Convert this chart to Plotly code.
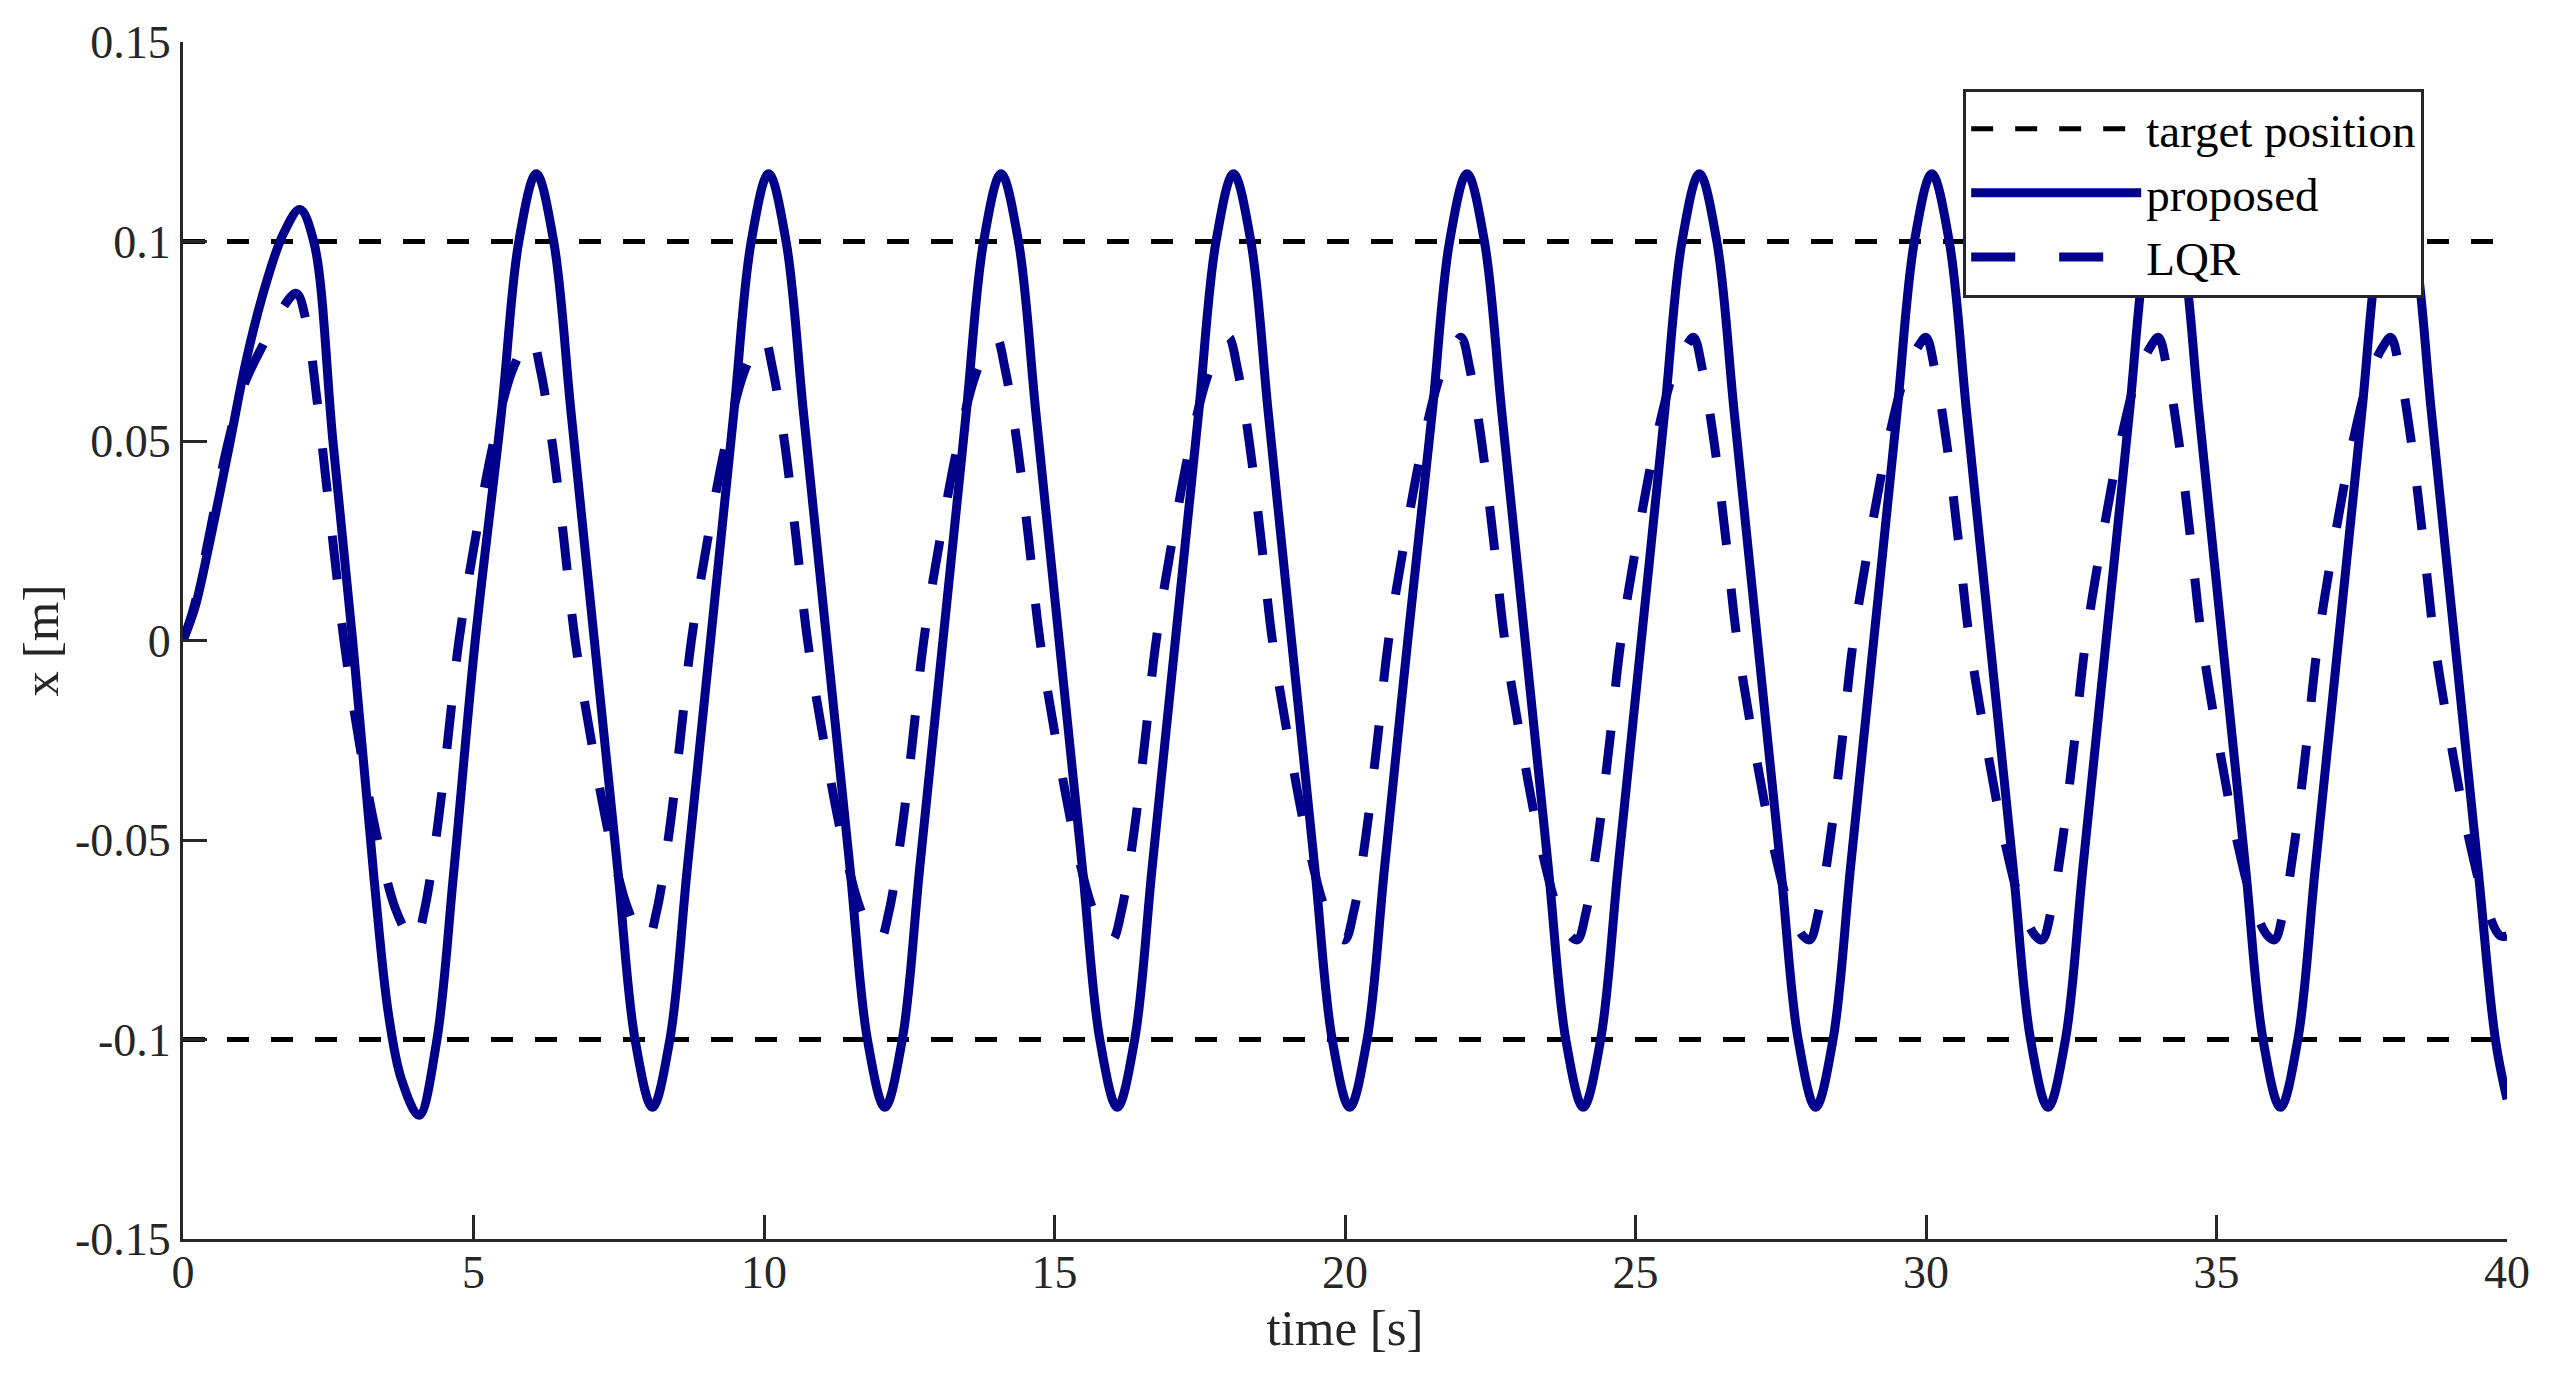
import plotly.graph_objects as go

# ---------------- data ----------------
# target position lines (+/- 0.1 m) over the full time span
target_t = [0.0, 40.0, None, 0.0, 40.0]
target_x = [0.1, 0.1, None, -0.1, -0.1]

# proposed controller response
prop_t = [
    0.0, 0.2, 0.45, 0.8, 1.1, 1.44, 1.73, 2.01, 2.25, 2.58, 2.92, 3.29, 3.54, 3.76, 4.06, 4.36, 4.66, 5.03,
    5.48, 5.78, 6.08, 6.38, 6.68, 7.08, 7.48, 7.78, 8.08, 8.38, 8.68, 9.08,
    9.48, 9.78, 10.08, 10.38, 10.68, 11.08, 11.48, 11.78, 12.08, 12.38, 12.68, 13.08,
    13.48, 13.78, 14.08, 14.38, 14.68, 15.08, 15.48, 15.78, 16.08, 16.38, 16.68, 17.08,
    17.48, 17.78, 18.08, 18.38, 18.68, 19.08, 19.48, 19.78, 20.08, 20.38, 20.68, 21.08,
    21.5, 21.8, 22.1, 22.4, 22.7, 23.1, 23.5, 23.8, 24.1, 24.4, 24.7, 25.1,
    25.5, 25.8, 26.1, 26.4, 26.7, 27.1, 27.5, 27.8, 28.1, 28.4, 28.7, 29.1,
    29.5, 29.8, 30.1, 30.4, 30.7, 31.1, 31.5, 31.8, 32.1, 32.4, 32.7, 33.1,
    33.5, 33.8, 34.1, 34.4, 34.7, 35.1, 35.5, 35.8, 36.1, 36.4, 36.7, 37.1,
    37.5, 37.8, 38.1, 38.4, 38.7, 39.1, 39.5, 39.8, 40.0,
]
prop_x = [
    0.0, 0.008, 0.024, 0.049, 0.071, 0.090, 0.102, 0.108, 0.100, 0.050, 0.0, -0.060, -0.094, -0.110, -0.119, -0.101, -0.058, 0.0,
    0.057, 0.100, 0.117, 0.100, 0.057, 0.0, -0.057, -0.100, -0.117, -0.100, -0.057, 0.0,
    0.057, 0.100, 0.117, 0.100, 0.057, 0.0, -0.057, -0.100, -0.117, -0.100, -0.057, 0.0,
    0.057, 0.100, 0.117, 0.100, 0.057, 0.0, -0.057, -0.100, -0.117, -0.100, -0.057, 0.0,
    0.057, 0.100, 0.117, 0.100, 0.057, 0.0, -0.057, -0.100, -0.117, -0.100, -0.057, 0.0,
    0.057, 0.100, 0.117, 0.100, 0.057, 0.0, -0.057, -0.100, -0.117, -0.100, -0.057, 0.0,
    0.057, 0.100, 0.117, 0.100, 0.057, 0.0, -0.057, -0.100, -0.117, -0.100, -0.057, 0.0,
    0.057, 0.100, 0.117, 0.100, 0.057, 0.0, -0.057, -0.100, -0.117, -0.100, -0.057, 0.0,
    0.057, 0.100, 0.117, 0.100, 0.057, 0.0, -0.057, -0.100, -0.117, -0.100, -0.057, 0.0,
    0.057, 0.100, 0.117, 0.100, 0.057, 0.0, -0.057, -0.100, -0.115,
]

# LQR response
lqr_t = [
    0.0, 0.2, 0.46, 0.75, 1.05, 1.41, 1.7, 1.95, 2.12, 2.30, 2.47, 2.64, 2.77,
    3.05, 3.35, 3.65, 3.88, 4.0, 4.15, 4.35, 4.55, 4.75,
    5.05, 5.35, 5.65, 5.88, 6.0, 6.15, 6.35, 6.55, 6.75, 7.05, 7.35, 7.65, 7.88, 8.0, 8.15, 8.35, 8.55, 8.75,
    9.05, 9.35, 9.65, 9.88, 10.0, 10.15, 10.35, 10.55, 10.75, 11.05, 11.35, 11.65, 11.88, 12.0, 12.15, 12.35, 12.55, 12.75,
    13.05, 13.35, 13.65, 13.88, 14.0, 14.15, 14.35, 14.55, 14.75, 15.05, 15.35, 15.65, 15.88, 16.0, 16.15, 16.35, 16.55, 16.75,
    17.05, 17.35, 17.65, 17.88, 18.0, 18.15, 18.35, 18.55, 18.75, 19.05, 19.35, 19.65, 19.88, 20.0, 20.15, 20.35, 20.55, 20.75,
    21.05, 21.35, 21.65, 21.88, 22.0, 22.15, 22.35, 22.55, 22.75, 23.05, 23.35, 23.65, 23.88, 24.0, 24.15, 24.35, 24.55, 24.75,
    25.05, 25.35, 25.65, 25.88, 26.0, 26.15, 26.35, 26.55, 26.75, 27.05, 27.35, 27.65, 27.88, 28.0, 28.15, 28.35, 28.55, 28.75,
    29.05, 29.35, 29.65, 29.88, 30.0, 30.15, 30.35, 30.55, 30.75, 31.05, 31.35, 31.65, 31.88, 32.0, 32.15, 32.35, 32.55, 32.75,
    33.05, 33.35, 33.65, 33.88, 34.0, 34.15, 34.35, 34.55, 34.75, 35.05, 35.35, 35.65, 35.88, 36.0, 36.15, 36.35, 36.55, 36.75,
    37.05, 37.35, 37.65, 37.88, 38.0, 38.15, 38.35, 38.55, 38.75, 39.05, 39.35, 39.65, 39.88, 40.0,
]
lqr_x = [
    0.0, 0.009, 0.027, 0.048, 0.064, 0.075, 0.083, 0.087, 0.080, 0.061, 0.039, 0.017, 0.0,
    -0.027, -0.050, -0.067, -0.074, -0.0757, -0.068, -0.050, -0.026, 0.0,
    0.027, 0.050, 0.067, 0.074, 0.076, 0.068, 0.050, 0.026, 0.0, -0.027, -0.050, -0.067, -0.074, -0.075, -0.068, -0.050, -0.026, 0.0,
    0.027, 0.050, 0.067, 0.074, 0.076, 0.068, 0.050, 0.026, 0.0, -0.027, -0.050, -0.067, -0.074, -0.075, -0.068, -0.050, -0.026, 0.0,
    0.027, 0.050, 0.067, 0.074, 0.076, 0.068, 0.050, 0.026, 0.0, -0.027, -0.050, -0.067, -0.074, -0.075, -0.068, -0.050, -0.026, 0.0,
    0.027, 0.050, 0.067, 0.074, 0.076, 0.068, 0.050, 0.026, 0.0, -0.027, -0.050, -0.067, -0.074, -0.075, -0.068, -0.050, -0.026, 0.0,
    0.027, 0.050, 0.067, 0.074, 0.076, 0.068, 0.050, 0.026, 0.0, -0.027, -0.050, -0.067, -0.074, -0.075, -0.068, -0.050, -0.026, 0.0,
    0.027, 0.050, 0.067, 0.074, 0.076, 0.068, 0.050, 0.026, 0.0, -0.027, -0.050, -0.067, -0.074, -0.075, -0.068, -0.050, -0.026, 0.0,
    0.027, 0.050, 0.067, 0.074, 0.076, 0.068, 0.050, 0.026, 0.0, -0.027, -0.050, -0.067, -0.074, -0.075, -0.068, -0.050, -0.026, 0.0,
    0.027, 0.050, 0.067, 0.074, 0.076, 0.068, 0.050, 0.026, 0.0, -0.027, -0.050, -0.067, -0.074, -0.075, -0.068, -0.050, -0.026, 0.0,
    0.027, 0.050, 0.067, 0.074, 0.076, 0.068, 0.050, 0.026, 0.0, -0.027, -0.050, -0.067, -0.074, -0.074,
]

x_tick_vals = [0, 5, 10, 15, 20, 25, 30, 35, 40]
y_tick_vals = [-0.15, -0.1, -0.05, 0, 0.05, 0.1, 0.15]
y_tick_text = ["-0.15", "-0.1", "-0.05", "0", "0.05", "0.1", "0.15"]

# ---------------- figure ----------------
FONT = "Liberation Serif, Times New Roman, serif"
AXC = "#262626"
BLUE = "#00008B"

fig = go.Figure()
fig.add_trace(go.Scatter(
    x=target_t, y=target_x, mode="lines", name="target position",
    line=dict(color="black", width=5, dash="22px,22px"),
))
fig.add_trace(go.Scatter(
    x=prop_t, y=prop_x, mode="lines", name="proposed",
    line=dict(color=BLUE, width=9, shape="spline", smoothing=1.0),
))
fig.add_trace(go.Scatter(
    x=lqr_t, y=lqr_x, mode="lines", name="LQR",
    line=dict(color=BLUE, width=9, dash="44px,44px", shape="spline", smoothing=1.0),
))

# page body has an 8px margin, so the figure is sized to fit the window
fig.update_layout(
    template="none",
    width=2534, height=1364,
    paper_bgcolor="white", plot_bgcolor="white",
    margin=dict(l=175, r=35, t=34, b=133, autoexpand=False),
    font=dict(family=FONT, color=AXC, size=46),
    showlegend=True,
    legend=dict(
        x=0.766, y=0.961, xanchor="left", yanchor="top",
        bgcolor="white", bordercolor=AXC, borderwidth=3,
        font=dict(family=FONT, size=47, color="black"),
        itemwidth=170,
        tracegroupgap=0,
    ),
)
fig.update_xaxes(
    range=[0, 40], tickvals=x_tick_vals, ticks="inside", ticklen=24, tickwidth=2.5,
    tickcolor=AXC, showline=True, linecolor=AXC, linewidth=3, mirror=False,
    showgrid=False, zeroline=False, tickfont=dict(family=FONT, size=46, color=AXC),
    ticklabelstandoff=-9,
    title=dict(text="time [s]", font=dict(family=FONT, size=51, color=AXC), standoff=13),
)
fig.update_yaxes(
    range=[-0.15, 0.15], tickvals=y_tick_vals, ticktext=y_tick_text, ticks="inside",
    ticklen=24, tickwidth=2.5, tickcolor=AXC, showline=True, linecolor=AXC, linewidth=3,
    mirror=False, showgrid=False, zeroline=False,
    tickfont=dict(family=FONT, size=46, color=AXC),
    title=dict(text="x [m]", font=dict(family=FONT, size=51, color=AXC), standoff=1),
)

fig.write_html("out.html")
